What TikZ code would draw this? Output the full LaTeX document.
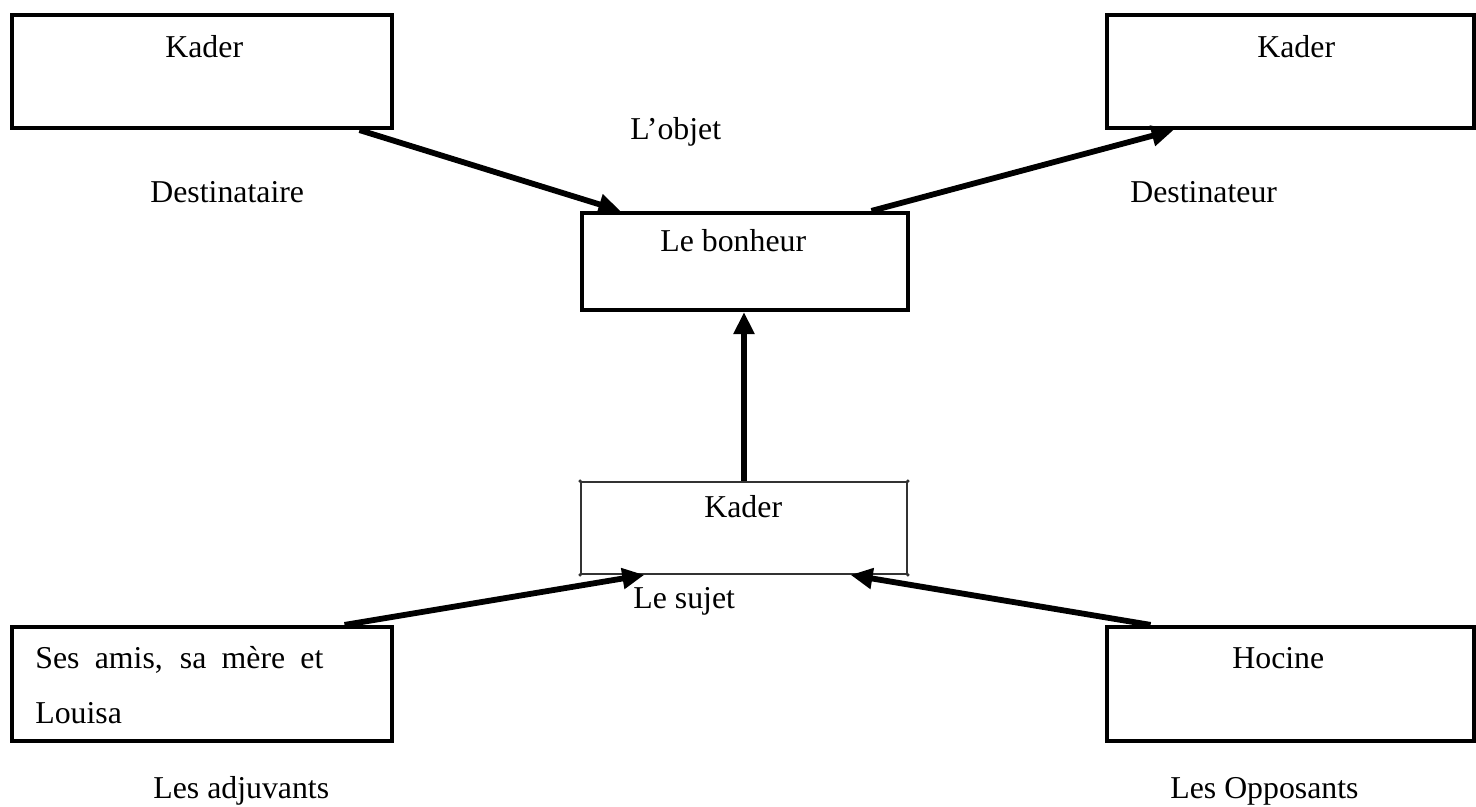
\documentclass[tikz,border=0pt]{standalone}
\usepackage{fontspec}
\setmainfont{Liberation Serif}
\usetikzlibrary{arrows.meta,calc}
\begin{document}
\begin{tikzpicture}[x=0.5pt,y=-0.5pt,
  box/.style={draw=black,line width=2.1pt,rectangle,inner sep=0pt},
  thinbox/.style={draw=black!80,line width=0.9pt,rectangle,inner sep=0pt},
  txt/.style={anchor=base west,inner sep=0pt,font=\fontsize{15.9pt}{18pt}\selectfont},
  arr/.style={line width=2.9pt,-{Triangle[length=11pt,width=10pt]}}]
\useasboundingbox (0,0) rectangle (1476,807);

% boxes (centre, size in px)
\node[box,minimum width=190pt,minimum height=56.5pt] (dest) at (202,71.5) {};
\node[box,minimum width=183.5pt,minimum height=56.5pt] (desr) at (1290.5,71.5) {};
\node[box,minimum width=163pt,minimum height=48.5pt] (obj) at (745,261.5) {};
\node[thinbox,minimum width=163pt,minimum height=46pt] (suj) at (744,528) {};
\node[box,minimum width=190pt,minimum height=57pt] (adj) at (202,684) {};
\node[box,minimum width=183.5pt,minimum height=57pt] (opp) at (1290.5,684) {};

% small handles at the corners of the subject box
\foreach \a in {north west,north east,south west,south east}
  \fill[black!80] (suj.\a) circle (0.9pt);

% texts inside the boxes
\node[txt] (t1) at (165,58) {Kader};
\node[txt] (t2) at (1257,58) {Kader};
\node[txt] (t3) at (660,252) {Le bonheur};
\node[txt] (t4) at (704,517) {Kader};
\node[txt] (t5) at (35,668) {\makebox[144pt][s]{Ses amis, sa mère et}};
\node[txt] (t6) at (35,723) {Louisa};
\node[txt] (t7) at (1232,668) {Hocine};

% role labels
\node[txt] (l1) at (150,203) {Destinataire};
\node[txt] (l2) at (630,140) {L’objet};
\node[txt] (l3) at (1130,203) {Destinateur};
\node[txt] (l4) at (633,608) {Le sujet};
\node[txt] (l5) at (153,798) {Les adjuvants};
\node[txt] (l6) at (1170,798) {Les Opposants};

% connectors
\draw[arr] ($(dest.south west)!0.91!(dest.south east)$) -- ($(obj.north west)!0.123!(obj.north east)$);
\draw[arr] ($(obj.north west)!0.883!(obj.north east)$) -- ($(desr.south west)!0.185!(desr.south east)$);
\draw[arr] (suj.north) -- (suj.north |- obj.south);
\draw[arr] ($(adj.north west)!0.871!(adj.north east)$) -- ($(suj.south west)!0.196!(suj.south east)$);
\draw[arr] ($(opp.north west)!0.123!(opp.north east)$) -- ($(suj.south west)!0.825!(suj.south east)$);
\end{tikzpicture}
\end{document}
